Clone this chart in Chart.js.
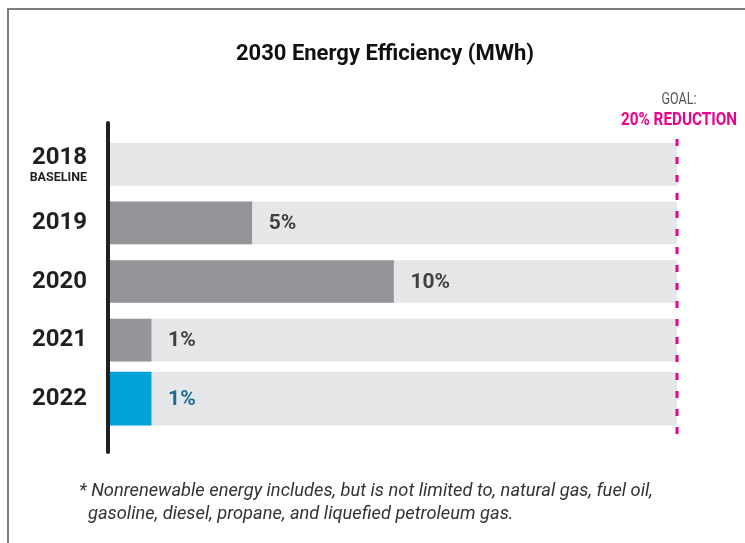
<!DOCTYPE html>
<html>
<head>
<meta charset="utf-8">
<script src="https://cdn.jsdelivr.net/npm/chart.js@4"></script>
<style>
html,body{margin:0;padding:0;background:#fff;}
#wrap{width:745px;height:543px;position:relative;}
</style>
</head>
<body>
<div id="wrap"><canvas id="c" width="745" height="543"></canvas></div>
<script>
const years = ["2018", "2019", "2020", "2021", "2022"];
const subLabels = ["BASELINE", "", "", "", ""];
const reductions = [0, 5, 10, 1.45, 1.45];
const valueLabels = ["", "5%", "10%", "1%", "1%"];
const goal = 20;
const titleText = "2030 Energy Efficiency (MWh)";
const goalLine1 = "GOAL:";
const goalLine2 = "20% REDUCTION";
const footnote = [
  "* Nonrenewable energy includes, but is not limited to, natural gas, fuel oil,",
  "  gasoline, diesel, propane, and liquefied petroleum gas."
];

const lastIdx = years.length - 1;
const trackMain = years.map((y, i) => i < lastIdx ? goal : null);
const trackLast = years.map((y, i) => i === lastIdx ? goal : null);
const valMain = reductions.map((v, i) => i < lastIdx && v > 0 ? v : null);
const valLast = reductions.map((v, i) => i === lastIdx ? v : null);

const overlay = {
  id: 'overlay',
  beforeDraw(chart) {
    const ctx = chart.ctx;
    ctx.save();
    ctx.fillStyle = '#fff';
    ctx.fillRect(0, 0, chart.width, chart.height);
    ctx.restore();
  },
  afterDraw(chart) {
    const ctx = chart.ctx;
    const xs = chart.scales.x, ys = chart.scales.y;
    ctx.save();
    // frame
    ctx.strokeStyle = '#7d7d7d';
    ctx.lineWidth = 2;
    ctx.beginPath();
    ctx.moveTo(8, 543); ctx.lineTo(8, 9); ctx.lineTo(745, 9);
    ctx.stroke();
    // title
    ctx.fillStyle = '#111';
    ctx.font = 'bold 22px Roboto';
    ctx.textAlign = 'center';
    ctx.textBaseline = 'middle';
    ctx.fillText(titleText, 385, 54);
    // y axis line
    ctx.strokeStyle = '#231f20';
    ctx.lineWidth = 4;
    ctx.lineCap = 'round';
    ctx.beginPath();
    ctx.moveTo(108, 123); ctx.lineTo(108, 452);
    ctx.stroke();
    // goal dashed line
    const gx = xs.getPixelForValue(goal);
    ctx.strokeStyle = '#ec008c';
    ctx.lineWidth = 3;
    ctx.lineCap = 'butt';
    ctx.setLineDash([7, 11]);
    ctx.beginPath();
    ctx.moveTo(gx, 139); ctx.lineTo(gx, 440);
    ctx.stroke();
    ctx.setLineDash([]);
    // goal text
    ctx.textAlign = 'center';
    ctx.fillStyle = '#555';
    ctx.font = '17px Roboto';
    ctx.fillText(goalLine1, gx + 2, 100, 35);
    ctx.fillStyle = '#ec008c';
    ctx.font = 'bold 19px Roboto';
    ctx.fillText(goalLine2, gx + 2, 120, 116);
    // category labels
    ctx.fillStyle = '#231f20';
    ctx.textAlign = 'right';
    years.forEach((y, i) => {
      const py = ys.getPixelForValue(i);
      if (subLabels[i]) {
        ctx.font = 'bold 24px Roboto';
        ctx.fillText(y, 87, py - 6);
        ctx.font = 'bold 12.5px Roboto';
        ctx.fillText(subLabels[i], 87, py + 14);
      } else {
        ctx.font = 'bold 24px Roboto';
        ctx.fillText(y, 87, py);
      }
    });
    // value labels
    ctx.textAlign = 'left';
    ctx.font = 'bold 21px Roboto';
    reductions.forEach((v, i) => {
      if (!valueLabels[i]) return;
      const px = xs.getPixelForValue(v) + 17;
      const py = ys.getPixelForValue(i) + 1;
      ctx.fillStyle = i === lastIdx ? '#1b6f93' : '#414042';
      ctx.fillText(valueLabels[i], px, py);
    });
    // footnote
    ctx.fillStyle = '#333';
    ctx.font = 'italic 18.3px Roboto';
    ctx.fillText(footnote[0], 79, 491);
    ctx.fillText(footnote[1], 79, 514);
    ctx.restore();
  }
};

new Chart(document.getElementById('c'), {
  type: 'bar',
  data: {
    labels: years,
    datasets: [
      { data: valMain, backgroundColor: '#939598', barThickness: 42, grouped: false, order: 1 },
      { data: valLast, backgroundColor: '#00a3d9', barThickness: 53, grouped: false, order: 1 },
      { data: trackMain, backgroundColor: '#e6e7e8', barThickness: 42, grouped: false, order: 2 },
      { data: trackLast, backgroundColor: '#e6e7e8', barThickness: 53, grouped: false, order: 2 }
    ]
  },
  options: {
    indexAxis: 'y',
    responsive: false,
    animation: false,
    layout: { padding: { left: 110, right: 68, top: 135, bottom: 115 } },
    scales: {
      x: { display: false, min: 0, max: goal },
      y: { display: false, offset: true }
    },
    plugins: { legend: { display: false }, tooltip: { enabled: false }, title: { display: false } }
  },
  plugins: [overlay]
});
</script>
</body>
</html>
